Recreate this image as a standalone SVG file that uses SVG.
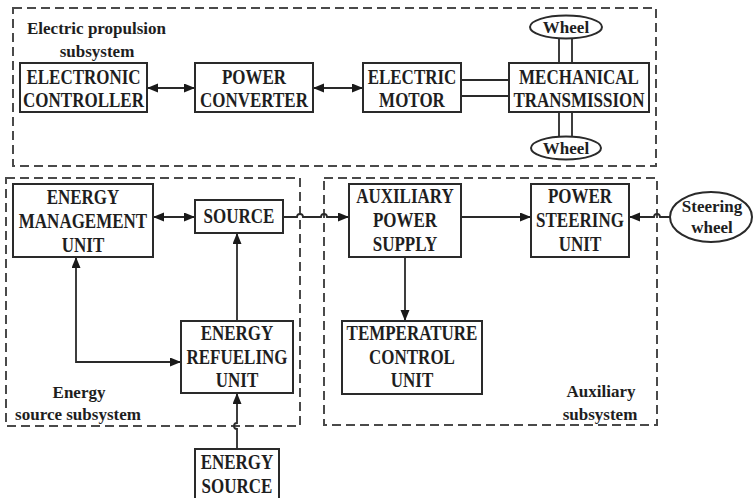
<svg xmlns="http://www.w3.org/2000/svg" width="754" height="498" viewBox="0 0 754 498">
  <style>
    .grp { fill: none; stroke: #4a4a4a; stroke-width: 2; stroke-dasharray: 9 5; }
    .box { fill: #fff; stroke: #2a2a2a; stroke-width: 2; }
    .t { font-family: "Liberation Serif", "Times New Roman", serif; font-weight: bold; font-size: 17px; fill: #1e1e1e; text-anchor: middle;
         transform-box: fill-box; transform-origin: center; transform: scaleY(1.18); }
    .lbl { font-family: "Liberation Serif", "Times New Roman", serif; font-weight: bold; font-size: 17px; fill: #1e1e1e; text-anchor: middle; }
    .ln { fill: none; stroke: #2a2a2a; stroke-width: 1.8; }
    .a2 { marker-start: url(#arr); marker-end: url(#arr); }
    .a1 { marker-end: url(#arr); }
  </style>
  <defs>
    <marker id="arr" markerUnits="userSpaceOnUse" markerWidth="12" markerHeight="10" refX="11" refY="4.5" orient="auto-start-reverse">
      <path d="M0,0 L11,4.5 L0,9 z" fill="#1a1a1a"/>
    </marker>
  </defs>
  <rect width="754" height="498" fill="#fff"/>

  <!-- subsystem frames -->
  <g id="electric-propulsion-subsystem">
    <rect class="grp" x="13" y="8" width="643" height="158"/>
    <text class="lbl" x="27" y="34" style="text-anchor:start">Electric propulsion</text>
    <text class="lbl" x="97" y="57">subsystem</text>
  </g>
  <g id="energy-source-subsystem">
    <rect class="grp" x="6" y="178" width="294" height="248"/>
    <text class="lbl" x="79" y="398">Energy</text>
    <text class="lbl" x="78" y="420">source subsystem</text>
  </g>
  <g id="auxiliary-subsystem">
    <rect class="grp" x="324" y="178" width="333" height="247"/>
    <text class="lbl" x="601" y="397">Auxiliary</text>
    <text class="lbl" x="600" y="420">subsystem</text>
  </g>

  <!-- connectors -->
  <g id="connectors">
    <path class="ln a2" d="M147,88 H195"/>
    <path class="ln a2" d="M313,88 H363"/>
    <path class="ln" d="M461,80 H509 M461,96 H509"/>
    <path class="ln" d="M559,39 V63 M572,39 V63"/>
    <path class="ln" d="M559,112 V137 M572,112 V137"/>
    <path class="ln a2" d="M153,217 H195"/>
    <path class="ln a1" d="M283,217 H297 a3,3 0 0 1 6,0 H321 a3,3 0 0 1 6,0 H349"/>
    <path class="ln a1" d="M461,217 H531"/>
    <path class="ln a1" d="M670,217 H660 a3,3 0 0 0 -6,0 H629"/>
    <path class="ln a1" d="M405,257 V321"/>
    <path class="ln a1" d="M237,321 V233"/>
    <path class="ln a2" d="M76,257 V362 H181"/>
    <path class="ln a1" d="M237,449 V429 a3,3 0 0 1 0,-6 V393"/>
  </g>

  <!-- electric propulsion blocks -->
  <g id="electronic-controller">
    <rect class="box" x="20" y="63" width="127" height="49"/>
    <text class="t" x="83.5" y="83">ELECTRONIC</text>
    <text class="t" x="83.5" y="106">CONTROLLER</text>
  </g>
  <g id="power-converter">
    <rect class="box" x="195" y="63" width="118" height="49"/>
    <text class="t" x="254" y="83">POWER</text>
    <text class="t" x="254" y="106">CONVERTER</text>
  </g>
  <g id="electric-motor">
    <rect class="box" x="363" y="63" width="98" height="49"/>
    <text class="t" x="412" y="83">ELECTRIC</text>
    <text class="t" x="412" y="106">MOTOR</text>
  </g>
  <g id="mechanical-transmission">
    <rect class="box" x="509" y="63" width="140" height="49"/>
    <text class="t" x="579" y="83">MECHANICAL</text>
    <text class="t" x="579" y="106">TRANSMISSION</text>
  </g>
  <g id="wheel-top">
    <ellipse class="box" cx="566" cy="27" rx="36" ry="11.5"/>
    <text class="lbl" x="566" y="33">Wheel</text>
  </g>
  <g id="wheel-bottom">
    <ellipse class="box" cx="566" cy="148" rx="35" ry="11.5"/>
    <text class="lbl" x="566" y="154">Wheel</text>
  </g>

  <!-- energy source blocks -->
  <g id="energy-management-unit">
    <rect class="box" x="13" y="184" width="140" height="73"/>
    <text class="t" x="83" y="203">ENERGY</text>
    <text class="t" x="83" y="227">MANAGEMENT</text>
    <text class="t" x="83" y="251">UNIT</text>
  </g>
  <g id="source">
    <rect class="box" x="195" y="200" width="88" height="33"/>
    <text class="t" x="239" y="222">SOURCE</text>
  </g>
  <g id="energy-refueling-unit">
    <rect class="box" x="181" y="321" width="112" height="72"/>
    <text class="t" x="237" y="339">ENERGY</text>
    <text class="t" x="237" y="363">REFUELING</text>
    <text class="t" x="237" y="386">UNIT</text>
  </g>
  <g id="energy-source">
    <rect class="box" x="195" y="449" width="84" height="52"/>
    <text class="t" x="237" y="468">ENERGY</text>
    <text class="t" x="237" y="492">SOURCE</text>
  </g>

  <!-- auxiliary blocks -->
  <g id="auxiliary-power-supply">
    <rect class="box" x="349" y="184" width="112" height="73"/>
    <text class="t" x="405" y="202">AUXILIARY</text>
    <text class="t" x="405" y="226">POWER</text>
    <text class="t" x="405" y="250">SUPPLY</text>
  </g>
  <g id="power-steering-unit">
    <rect class="box" x="531" y="184" width="98" height="73"/>
    <text class="t" x="580" y="202">POWER</text>
    <text class="t" x="580" y="226">STEERING</text>
    <text class="t" x="580" y="250">UNIT</text>
  </g>
  <g id="temperature-control-unit">
    <rect class="box" x="342" y="321" width="140" height="73"/>
    <text class="t" x="412" y="339">TEMPERATURE</text>
    <text class="t" x="412" y="363">CONTROL</text>
    <text class="t" x="412" y="386">UNIT</text>
  </g>
  <g id="steering-wheel">
    <ellipse class="box" cx="711" cy="217" rx="41" ry="25"/>
    <text class="lbl" x="712" y="212">Steering</text>
    <text class="lbl" x="712" y="233">wheel</text>
  </g>
</svg>
